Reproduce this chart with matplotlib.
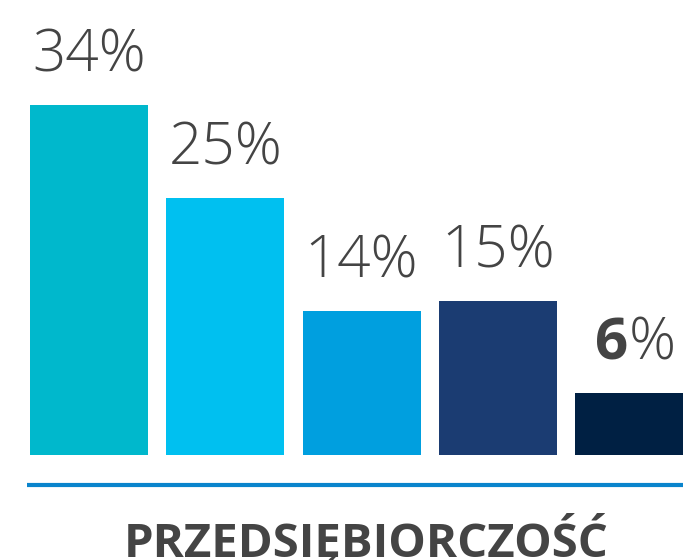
import matplotlib
matplotlib.use("Agg")
import matplotlib.pyplot as plt

values = [34, 25, 14, 15, 6]
labels = ["34%", "25%", "14%", "15%", "6%"]
colors = ["#00B8CC", "#00C0F0", "#009FDF", "#1B3C72", "#002043"]
title = "PRZEDSIĘBIORCZOŚĆ"

fig = plt.figure(figsize=(6.83, 5.60), dpi=100)
ax = fig.add_axes([0, 0, 1, 1])
x = list(range(len(values)))
ax.bar(x, values, width=0.866, color=colors)
ax.set_xlim(-0.653, 4.358)
ax.set_ylim(-10.2, 44.2)
ax.axis("off")

fam = ["Open Sans", "DejaVu Sans"]
for i, (v, lab) in enumerate(zip(values, labels)):
    if i == 4:
        num, pct = lab[:-1], lab[-1]
        ax.annotate(num, (i, v), xytext=(-4, 24), textcoords="offset points",
                    ha="right", va="baseline", fontsize=42, fontweight="bold",
                    color="#444444", family=fam)
        ax.annotate(pct, (i, v), xytext=(-4, 24), textcoords="offset points",
                    ha="left", va="baseline", fontsize=42, fontweight="light",
                    color="#444444", family=fam)
    else:
        ax.annotate(lab, (i, v), xytext=(0, 24), textcoords="offset points",
                    ha="center", va="baseline", fontsize=42, fontweight="light",
                    color="#444444", family=fam)

ax.plot([-0.455, 4.358], [-2.9, -2.9], color="#0A84CC", lw=3, solid_capstyle="butt")

fig.text(366 / 683, 1 - 557 / 560, title, ha="center", va="baseline",
         fontsize=34, fontweight="bold", color="#444444", family=fam)

fig.savefig("out.png", dpi=100)
